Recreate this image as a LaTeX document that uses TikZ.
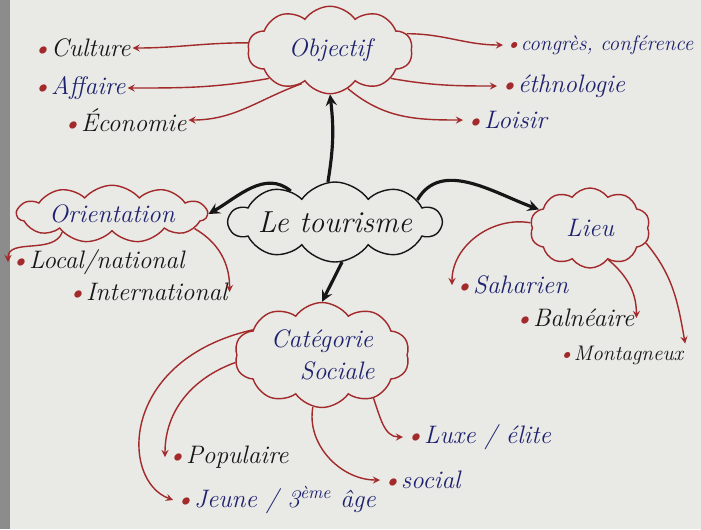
\documentclass[tikz,border=0pt]{standalone}
\usetikzlibrary{shapes.symbols}
\definecolor{ink}{HTML}{1E226E}
\definecolor{pen}{HTML}{161616}
\definecolor{redpen}{HTML}{A22A2A}
\definecolor{paper}{HTML}{E9E9E6}
\newcommand{\pt}{\textcolor{redpen}{\textbullet}}
\begin{document}
\begin{tikzpicture}[x=.02cm,y=-.02cm,>=stealth,font=\Large\itshape,
		bulle/.style={cloud,cloud puffs=10,cloud puff arc=110,cloud ignores aspect,draw=redpen,thick,text=ink,inner sep=0pt},
		feuille/.style={anchor=west,inner sep=1pt},
		rouge/.style={->,redpen,thick},
		noir/.style={->,pen,line width=1.8pt}]
	\useasboundingbox (0,0) rectangle (701,529);
	\fill[paper] (0,0) rectangle (701,529);
	\fill[black!45] (0,0) rectangle (10,529);
	% nuages
	\node[bulle,minimum width=3.3cm,minimum height=1.75cm] (obj) at (330,50) {Objectif};
	\node[bulle,draw=pen,text=pen,minimum width=4.2cm,minimum height=1.6cm,font=\LARGE\itshape] (tour) at (335,222) {Le tourisme};
	\node[bulle,cloud puffs=11,cloud puff arc=100,minimum width=3.8cm,minimum height=1.15cm] (orient) at (112,214) {Orientation};
	\node[bulle,minimum width=2.4cm,minimum height=1.6cm] (lieu) at (590,228) {Lieu};
	\node[bulle,minimum width=3.5cm,minimum height=2.1cm,align=center] (cat) at (322,355) {Catégorie\\\hspace{1.2em}Sociale};
	% feuilles
	\node[feuille,text=pen] (cult) at (30,48) {\pt Culture};
	\node[feuille,text=ink] (aff) at (30,88) {\pt Affaire};
	\node[feuille,text=pen] (eco) at (60,120) {\pt Économie};
	\node[feuille,text=ink,font=\large\itshape] (cong) at (503,45) {\pt congrès, conférence};
	\node[feuille,text=ink] (ethn) at (497,86) {\pt éthnologie};
	\node[feuille,text=ink] (lois) at (463,120) {\pt Loisir};
	\node[feuille,text=pen] (loc) at (8,262) {\pt Local/national};
	\node[feuille,text=pen] (inter) at (65,292) {\pt International};
	\node[feuille,text=ink] (sah) at (452,285) {\pt Saharien};
	\node[feuille,text=pen] (baln) at (512,318) {\pt Balnéaire};
	\node[feuille,text=pen,font=\large\itshape] (mont) at (556,355) {\pt Montagneux};
	\node[feuille,text=pen] (pop) at (165,457) {\pt Populaire};
	\node[feuille,text=ink] (jeune) at (173,500) {\pt Jeune / 3\textsuperscript{ème} âge};
	\node[feuille,text=ink] (luxe) at (403,437) {\pt Luxe / élite};
	\node[feuille,text=ink] (soc) at (380,480) {\pt social};
	% fleches noires
	\draw[noir] (tour.100) to[bend right=8] (obj.south);
	\draw[noir] (tour.145) to[out=140,in=30] (orient.east);
	\draw[noir] (tour.15) to[out=60,in=160] (lieu.160);
	\draw[noir] (tour.-80) -- (cat.north);
	% fleches rouges
	\draw[rouge] (obj.175) to[out=180,in=0] (cult.east);
	\draw[rouge] (obj.205) to[out=190,in=0] (aff.east);
	\draw[rouge] (obj.230) to[out=200,in=0] (eco.east);
	\draw[rouge] (obj.12) to[out=0,in=180] (cong.west);
	\draw[rouge] (obj.-25) to[out=-10,in=180] (ethn.west);
	\draw[rouge] (obj.-65) to[out=-40,in=180] (lois.west);
	\draw[rouge] (orient.200) to[out=-110,in=90] (loc.west);
	\draw[rouge] (orient.-10) to[out=-30,in=90] (inter.east);
	\draw[rouge] (lieu.175) to[out=170,in=90] (sah.west);
	\draw[rouge] (lieu.-60) to[out=-40,in=90] (baln.east);
	\draw[rouge] (lieu.-15) to[out=-50,in=100] (mont.north east);
	\draw[rouge] (cat.185) to[out=200,in=90] (pop.west);
	\draw[rouge] (cat.160) .. controls (120,360) and (120,480) .. (jeune.west);
	\draw[rouge] (cat.-40) to[out=-70,in=180] (luxe.west);
	\draw[rouge] (cat.-100) to[out=-100,in=180] (soc.west);
\end{tikzpicture}
\end{document}
